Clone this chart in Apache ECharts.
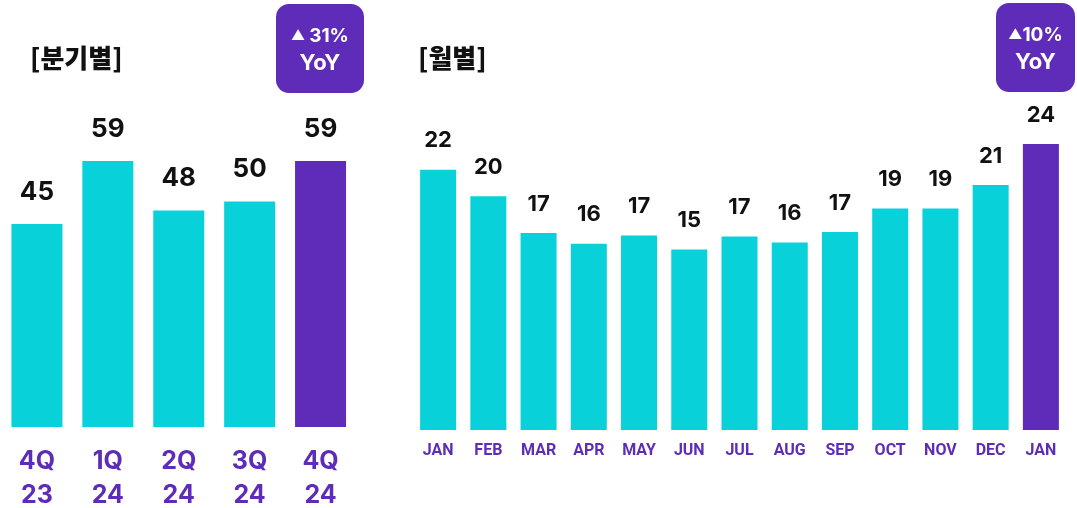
<!DOCTYPE html>
<html>
<head>
<meta charset="utf-8">
<script src="https://cdn.jsdelivr.net/npm/echarts@6/dist/echarts.min.js"></script>
<style>
  html, body { margin: 0; padding: 0; background: #fff; }
  #chart { width: 1077px; height: 508px; }
</style>
</head>
<body>
<div id="chart"></div>
<script>
let quarters = ['4Q\n23', '1Q\n24', '2Q\n24', '3Q\n24', '4Q\n24'];
let quarterValues = [45, 59, 48, 50, 59];

let months = ['JAN', 'FEB', 'MAR', 'APR', 'MAY', 'JUN', 'JUL', 'AUG', 'SEP', 'OCT', 'NOV', 'DEC', 'JAN'];
let monthValues = [22.2, 19.95, 16.8, 15.9, 16.6, 15.4, 16.5, 16.0, 16.9, 18.9, 18.9, 20.9, 24.4];

let quarterTitle = '[분기별]';
let monthTitle = '[월별]';
let quarterYoY = '31%';
let monthYoY = '10%';

const TEAL = '#08D1D9';
const PURPLE = '#5E2CB8';

function barColor(len) {
    return function (p) {
        return p.dataIndex === len - 1 ? PURPLE : TEAL;
    };
}

function badge(x, y, w, h, pct, gap) {
    return {
        type: 'group',
        children: [
            {
                type: 'rect',
                shape: { x: x, y: y, width: w, height: h, r: 13 },
                style: { fill: PURPLE }
            },
            {
                type: 'text',
                x: x + w / 2,
                y: y + h / 2 + 1,
                style: {
                    text: '{t|▲' + gap + '}{p|' + pct + '}\n{y|YoY}',
                    align: 'center',
                    verticalAlign: 'middle',
                    fill: '#fff',
                    rich: {
                        t: { fontSize: 14, fill: '#fff', fontFamily: 'Inter', lineHeight: 27 },
                        p: { fontSize: 19, fill: '#fff', fontWeight: 'bold', fontFamily: 'Inter', lineHeight: 27 },
                        y: { fontSize: 22, fill: '#fff', fontWeight: 'bold', fontFamily: 'Inter', lineHeight: 27 }
                    }
                }
            }
        ]
    };
}

let chart = echarts.init(document.getElementById('chart'), null, { renderer: 'canvas' });

let option = {
    animation: false,
    backgroundColor: '#fff',
    title: [
        {
            text: quarterTitle, left: 25, top: 40,
            textStyle: { fontFamily: 'Noto Sans CJK KR', fontWeight: 900, fontSize: 26, color: '#111' }
        },
        {
            text: monthTitle, left: 413, top: 40,
            textStyle: { fontFamily: 'Noto Sans CJK KR', fontWeight: 900, fontSize: 26, color: '#111' }
        }
    ],
    grid: [
        { left: 1.5, right: 721, top: 161, bottom: 81, outerBoundsMode: 'none', containLabel: false },
        { left: 413, right: 11, top: 137, bottom: 78, outerBoundsMode: 'none', containLabel: false }
    ],
    xAxis: [
        {
            type: 'category', gridIndex: 0, data: quarters,
            axisLine: { show: false }, axisTick: { show: false },
            axisLabel: {
                margin: 17, color: PURPLE, fontSize: 25, fontWeight: 'bold',
                fontFamily: 'Inter', lineHeight: 34
            }
        },
        {
            type: 'category', gridIndex: 1, data: months,
            axisLine: { show: false }, axisTick: { show: false },
            axisLabel: {
                margin: 13, color: PURPLE, fontSize: 16, fontWeight: 'bold',
                fontFamily: 'Roboto', interval: 0
            }
        }
    ],
    yAxis: [
        { type: 'value', gridIndex: 0, min: 0, max: 59, show: false, splitLine: { show: false } },
        { type: 'value', gridIndex: 1, min: 0, max: 25, show: false, splitLine: { show: false } }
    ],
    series: [
        {
            type: 'bar', xAxisIndex: 0, yAxisIndex: 0, data: quarterValues,
            barWidth: 51,
            itemStyle: { color: barColor(quarterValues.length) },
            label: {
                show: true, position: 'top', distance: 19,
                color: '#111', fontSize: 26, fontWeight: 'bold', fontFamily: 'Inter'
            }
        },
        {
            type: 'bar', xAxisIndex: 1, yAxisIndex: 1, data: monthValues,
            barWidth: 36,
            itemStyle: { color: barColor(monthValues.length) },
            label: {
                show: true, position: 'top', distance: 18,
                color: '#111', fontSize: 22, fontWeight: 'bold', fontFamily: 'Inter',
                formatter: function (p) { return Math.round(p.value); }
            }
        }
    ],
    graphic: [
        badge(276, 4, 88, 89, quarterYoY, ' '),
        badge(996, 3, 79, 89, monthYoY, '')
    ]
};

chart.setOption(option);
</script>
</body>
</html>
